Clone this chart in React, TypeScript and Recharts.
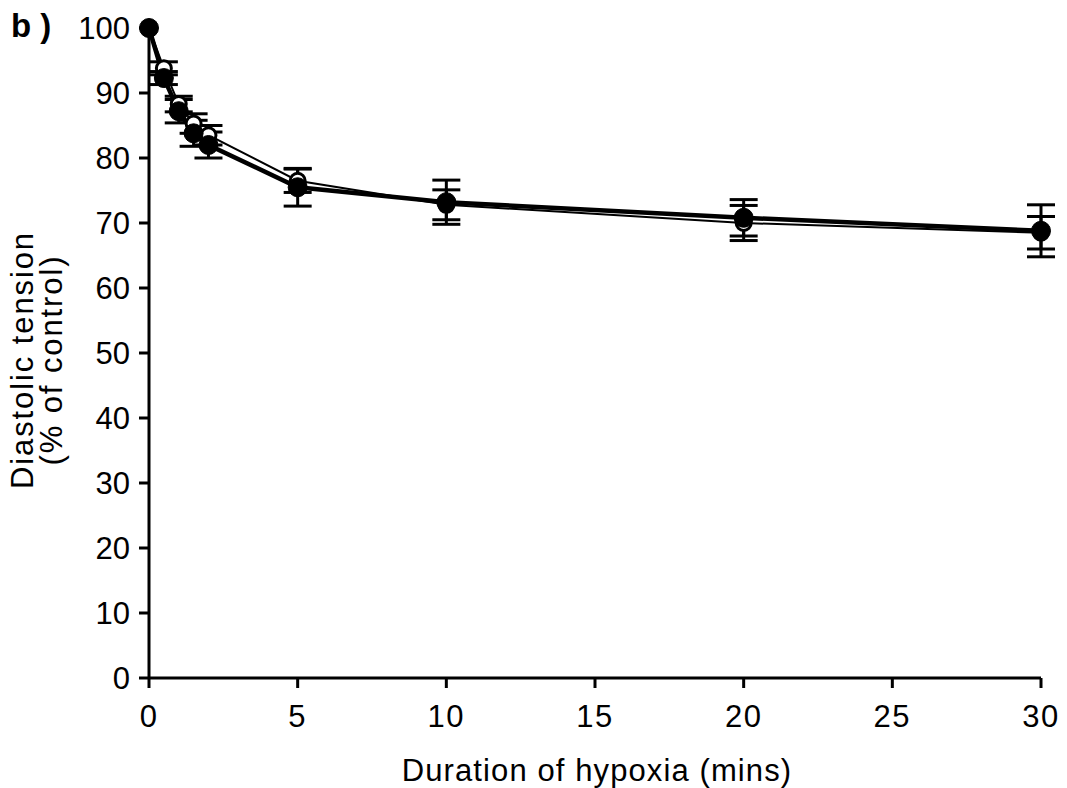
import React from "react";
import { LineChart, Line, XAxis, YAxis, ErrorBar } from "recharts";

const times = [0, 0.5, 1, 1.5, 2, 5, 10, 20, 30];
const openVals = [100, 93.8, 88.3, 85.3, 83.5, 76.5, 72.8, 70.0, 68.5];
const openErr = [0, 1.0, 1.2, 1.5, 1.5, 1.8, 2.3, 2.7, 2.5];
const filledVals = [100, 92.3, 87.2, 83.8, 82.0, 75.5, 73.2, 70.8, 68.8];
const filledErr = [0, 1.0, 1.8, 2.0, 2.0, 2.9, 3.4, 2.8, 4.0];
const xTicks = [0, 5, 10, 15, 20, 25, 30];
const yTicks = [0, 10, 20, 30, 40, 50, 60, 70, 80, 90, 100];

const data = times.map((t, i) => ({
  t,
  open: openVals[i],
  openErr: openErr[i],
  filled: filledVals[i],
  filledErr: filledErr[i],
}));

const FONT = "'Liberation Sans', Arial, Helvetica, sans-serif";

const OpenDot = (props: any) => {
  const { cx, cy } = props;
  if (cx == null || cy == null) return null;
  return <circle cx={cx} cy={cy} r={7.5} fill="#fff" stroke="#000" strokeWidth={3} />;
};
const FilledDot = (props: any) => {
  const { cx, cy } = props;
  if (cx == null || cy == null) return null;
  return <circle cx={cx} cy={cy} r={9.5} fill="#000" stroke="#000" strokeWidth={1} />;
};

const YLabel = (props: any) => {
  const vb = props.viewBox || {};
  const cy = (vb.y || 0) + (vb.height || 0) / 2 + 7;
  const style = { fontFamily: FONT, fontSize: 31, letterSpacing: 1.9, fill: "#000" } as any;
  return (
    <g>
      <text x={22} y={cy} transform={`rotate(-90, 22, ${cy})`} textAnchor="middle" dominantBaseline="central" style={style}>
        Diastolic tension
      </text>
      <text x={51} y={cy} transform={`rotate(-90, 51, ${cy})`} textAnchor="middle" dominantBaseline="central" style={style}>
        (% of control)
      </text>
    </g>
  );
};

const XLabel = (props: any) => {
  const vb = props.viewBox || {};
  const cx = (vb.x || 0) + (vb.width || 0) / 2 + 2;
  return (
    <text x={cx} y={781} textAnchor="middle" style={{ fontFamily: FONT, fontSize: 31, letterSpacing: 1.1, fill: "#000" } as any}>
      Duration of hypoxia (mins)
    </text>
  );
};

export default function App() {
  return (
    <div style={{ position: "fixed", left: 0, top: 0, width: 1067, height: 788, background: "#fff" }}>
      <div style={{ position: "absolute", left: 11, top: 8, fontFamily: FONT, fontWeight: "bold", fontSize: 33, color: "#000", lineHeight: "36px" }}>
        b )
      </div>
      <LineChart width={1067} height={788} data={data} margin={{ top: 28, right: 26, bottom: 0, left: 0 }}>
        <XAxis
          type="number"
          dataKey="t"
          domain={[0, 30]}
          ticks={xTicks}
          interval={0}
          height={110}
          tickSize={10}
          tickMargin={17}
          axisLine={{ stroke: "#000", strokeWidth: 3 }}
          tickLine={{ stroke: "#000", strokeWidth: 3 }}
          tick={{ fill: "#000", fontSize: 31, fontFamily: FONT, letterSpacing: 1.5 } as any}
          label={<XLabel />}
        />
        <YAxis
          type="number"
          domain={[0, 100]}
          ticks={yTicks}
          interval={0}
          width={149}
          tickSize={10}
          tickMargin={9}
          axisLine={{ stroke: "#000", strokeWidth: 3 }}
          tickLine={{ stroke: "#000", strokeWidth: 3 }}
          tick={{ fill: "#000", fontSize: 31, fontFamily: FONT } as any}
          label={<YLabel />}
        />
        <Line
          type="linear"
          dataKey="open"
          stroke="#000"
          strokeWidth={2}
          dot={<OpenDot />}
          activeDot={false}
          isAnimationActive={false}
        >
          <ErrorBar dataKey="openErr" direction="y" width={14} stroke="#000" strokeWidth={3} />
        </Line>
        <Line
          type="linear"
          dataKey="filled"
          stroke="#000"
          strokeWidth={4.5}
          dot={<FilledDot />}
          activeDot={false}
          isAnimationActive={false}
        >
          <ErrorBar dataKey="filledErr" direction="y" width={14} stroke="#000" strokeWidth={3} />
        </Line>
      </LineChart>
    </div>
  );
}
